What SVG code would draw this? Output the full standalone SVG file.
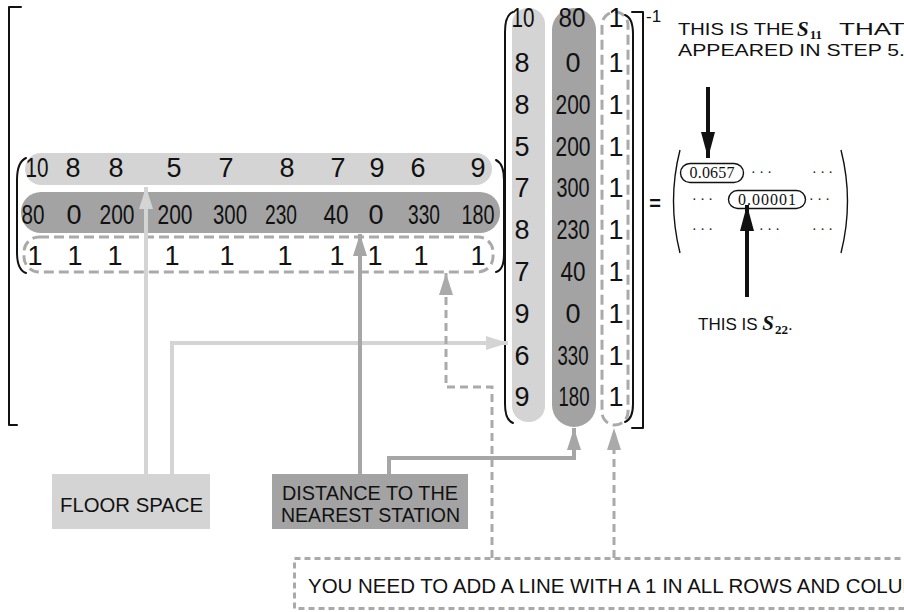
<svg xmlns="http://www.w3.org/2000/svg" width="904" height="612" viewBox="0 0 904 612">
<style>
.hw{font-family:"Liberation Sans",Arial,sans-serif;font-size:27px;text-anchor:middle;fill:#111}
.lbl{font-family:"Liberation Sans",Arial,sans-serif;font-size:20px;fill:#111}
.note{font-family:"Liberation Sans",Arial,sans-serif;font-size:17px;fill:#111}
.math{font-family:"Liberation Serif","Times New Roman",serif;fill:#111}
.dots{font-family:"Liberation Serif","Times New Roman",serif;font-size:14px;fill:#111}
.ink{fill:none;stroke:#111;stroke-width:2;stroke-linecap:round;stroke-linejoin:round}
.thin{fill:none;stroke:#111;stroke-width:1.4}
.pl{fill:#d4d4d4}
.pd{fill:#a3a3a3}
.pdash{fill:none;stroke:#aaaaaa;stroke-width:3;stroke-dasharray:10 5}
.cl{fill:none;stroke:#d4d4d4;stroke-width:4}
.cd{fill:none;stroke:#a6a6a6;stroke-width:4}
.cdash{fill:none;stroke:#aaaaaa;stroke-width:3;stroke-dasharray:8 5}
.cb{fill:none;stroke:#111;stroke-width:4}
</style>
<defs>
<marker id="hl" markerUnits="userSpaceOnUse" markerWidth="24" markerHeight="16" refX="22" refY="7" orient="auto"><path d="M0,0 L22,7 L0,14 Z" fill="#d4d4d4"/></marker>
<marker id="hd" markerUnits="userSpaceOnUse" markerWidth="24" markerHeight="16" refX="22" refY="7" orient="auto"><path d="M0,0 L22,7 L0,14 Z" fill="#a6a6a6"/></marker>
<marker id="hg" markerUnits="userSpaceOnUse" markerWidth="24" markerHeight="16" refX="22" refY="7" orient="auto"><path d="M0,0 L22,7 L0,14 Z" fill="#aaaaaa"/></marker>
<marker id="hb" markerUnits="userSpaceOnUse" markerWidth="28" markerHeight="16" refX="26" refY="7" orient="auto"><path d="M0,0 L26,7 L0,14 Z" fill="#111"/></marker>
</defs>
<rect width="904" height="612" fill="#fff"/>

<!-- outer brackets -->
<g id="outer-bracket">
<path class="ink" d="M21,7 L9,7 L9,425 L17,425"/>
<path class="ink" d="M632,12 L643,12 L643,428 L632,428"/>
<text x="646" y="22" font-family="Liberation Sans,Arial,sans-serif" font-size="17" fill="#111">-1</text>
</g>

<!-- left matrix (transposed) -->
<g id="matrix-xt">
<rect class="pl" x="25" y="153" width="467" height="32" rx="16"/>
<rect class="pd" x="21" y="192" width="479" height="41" rx="20"/>
<rect class="pdash" x="24" y="237" width="469" height="35" rx="15"/>
<path class="ink" d="M26,158 Q17,162 17,180 L17,252 Q17,270 26,273"/>
<path class="ink" d="M496,160 Q504,164 504,180 L504,254 Q504,270 496,272"/>
<g class="hw">
<text x="37" y="177" textLength="23" lengthAdjust="spacingAndGlyphs">10</text><text x="73" y="177">8</text><text x="116" y="177">8</text><text x="174" y="177">5</text><text x="226" y="177">7</text><text x="287" y="177">8</text><text x="338" y="177">7</text><text x="377" y="177">9</text><text x="418" y="177">6</text><text x="478" y="177">9</text>
<text x="33" y="224" textLength="23" lengthAdjust="spacingAndGlyphs">80</text><text x="74" y="224">0</text><text x="117" y="224" textLength="35" lengthAdjust="spacingAndGlyphs">200</text><text x="175" y="224" textLength="35" lengthAdjust="spacingAndGlyphs">200</text><text x="230" y="224" textLength="34" lengthAdjust="spacingAndGlyphs">300</text><text x="281" y="224" textLength="32" lengthAdjust="spacingAndGlyphs">230</text><text x="336" y="224" textLength="25" lengthAdjust="spacingAndGlyphs">40</text><text x="376" y="224">0</text><text x="424" y="224" textLength="32" lengthAdjust="spacingAndGlyphs">330</text><text x="478" y="224" textLength="33" lengthAdjust="spacingAndGlyphs">180</text>
<text x="35" y="265">1</text><text x="75" y="265">1</text><text x="115" y="265">1</text><text x="172" y="265">1</text><text x="227" y="265">1</text><text x="285" y="265">1</text><text x="337" y="265">1</text><text x="375" y="265">1</text><text x="421" y="265">1</text><text x="478" y="265">1</text>
</g>
</g>

<!-- right matrix -->
<g id="matrix-x">
<rect class="pl" x="512" y="8" width="33" height="414" rx="16"/>
<rect class="pd" x="552" y="8" width="44" height="419" rx="22"/>
<rect class="pdash" x="602" y="12" width="26" height="413" rx="13"/>
<path class="ink" d="M513,12 Q505,15 505,32 L505,404 Q505,420 513,423"/>
<path class="ink" d="M625,15 Q633,18 633,34 L633,404 Q633,419 625,422"/>
<g class="hw">
<text x="523" y="27" textLength="23" lengthAdjust="spacingAndGlyphs">10</text><text x="522" y="72">8</text><text x="522" y="114">8</text><text x="522" y="156">5</text><text x="522" y="197">7</text><text x="522" y="239">8</text><text x="522" y="281">7</text><text x="522" y="323">9</text><text x="522" y="365">6</text><text x="522" y="406">9</text>
<text x="572" y="27" textLength="27" lengthAdjust="spacingAndGlyphs">80</text><text x="573" y="72">0</text><text x="573" y="114" textLength="35" lengthAdjust="spacingAndGlyphs">200</text><text x="573" y="156" textLength="35" lengthAdjust="spacingAndGlyphs">200</text><text x="573" y="197" textLength="33" lengthAdjust="spacingAndGlyphs">300</text><text x="573" y="239" textLength="33" lengthAdjust="spacingAndGlyphs">230</text><text x="573" y="281" textLength="25" lengthAdjust="spacingAndGlyphs">40</text><text x="573" y="323">0</text><text x="573" y="365" textLength="31" lengthAdjust="spacingAndGlyphs">330</text><text x="574" y="406" textLength="31" lengthAdjust="spacingAndGlyphs">180</text>
<text x="616" y="27">1</text><text x="616" y="72">1</text><text x="616" y="114">1</text><text x="616" y="156">1</text><text x="616" y="197">1</text><text x="616" y="239">1</text><text x="616" y="281">1</text><text x="616" y="323">1</text><text x="616" y="365">1</text><text x="616" y="406">1</text>
</g>
</g>

<!-- result matrix -->
<g id="result">
<text x="655" y="210" font-family="Liberation Sans,Arial,sans-serif" font-size="20" font-weight="bold" text-anchor="middle" fill="#111">=</text>
<path class="thin" d="M680,150 Q667,201 680,253"/>
<path class="thin" d="M841,150 Q854,201 841,253"/>
<rect x="680.5" y="163.5" width="63" height="19" rx="9.5" fill="none" stroke="#111" stroke-width="1.4"/>
<text class="math" x="712" y="178" font-size="16" text-anchor="middle" textLength="45">0.0657</text>
<rect x="728.5" y="190.5" width="77" height="18" rx="9" fill="none" stroke="#111" stroke-width="1.4"/>
<text class="math" x="767" y="204.5" font-size="16" text-anchor="middle" textLength="58">0.00001</text>
<text class="dots" x="751" y="177">· · ·</text>
<text class="dots" x="812" y="177">· · ·</text>
<text class="dots" x="692" y="204">· · ·</text>
<text class="dots" x="809" y="204">· · ·</text>
<text class="dots" x="692" y="234">· · ·</text>
<text class="dots" x="759" y="234">· · ·</text>
<text class="dots" x="812" y="234">· · ·</text>
</g>

<!-- annotations -->
<g id="note-s11">
<text class="note" x="678" y="35" textLength="116" lengthAdjust="spacingAndGlyphs">THIS IS THE</text>
<text class="math" x="797" y="36" font-weight="bold"><tspan font-size="21" font-style="italic">S</tspan><tspan font-size="13" dx="1" dy="3">11</tspan></text>
<text class="note" x="839" y="35" textLength="66" lengthAdjust="spacingAndGlyphs">THAT</text>
<text class="note" x="678" y="56" textLength="227" lengthAdjust="spacingAndGlyphs">APPEARED IN STEP 5.</text>
</g>
<g id="note-s22">
<text class="note" x="698" y="330" font-size="15">THIS IS <tspan class="math" font-size="21" font-style="italic" font-weight="bold">S</tspan><tspan class="math" font-size="13" font-weight="bold" dx="1" dy="4">22</tspan><tspan dy="-4">.</tspan></text>
</g>

<!-- label boxes -->
<g id="floor-space">
<rect x="52" y="474" width="158" height="55" fill="#d4d4d4"/>
<text class="lbl" x="60" y="512" textLength="143" lengthAdjust="spacingAndGlyphs">FLOOR SPACE</text>
</g>
<g id="distance">
<rect x="272" y="474" width="196" height="55" fill="#a3a3a3"/>
<text class="lbl" x="282" y="500" textLength="176" lengthAdjust="spacingAndGlyphs">DISTANCE TO THE</text>
<text class="lbl" x="281" y="522" textLength="179" lengthAdjust="spacingAndGlyphs">NEAREST STATION</text>
</g>
<g id="ones-note">
<rect x="294.5" y="558.5" width="640" height="50" fill="none" stroke="#aaaaaa" stroke-width="3" stroke-dasharray="6 4"/>
<text class="lbl" x="308" y="593" font-size="19" textLength="640" lengthAdjust="spacingAndGlyphs">YOU NEED TO ADD A LINE WITH A 1 IN ALL ROWS AND COLUMNS</text>
</g>

<!-- connectors -->
<g id="connectors">
<path class="cl" d="M146,474 L146,187" marker-end="url(#hl)"/>
<path class="cl" d="M172,474 L172,343 L508,343" marker-end="url(#hl)"/>
<path class="cd" d="M360,474 L360,234" marker-end="url(#hd)"/>
<path class="cd" d="M389,474 L389,458 L574,458 L574,428" marker-end="url(#hd)"/>
<path class="cdash" d="M492,558 L492,387 L446,387 L446,273" marker-end="url(#hg)"/>
<path class="cdash" d="M614,558 L614,428" marker-end="url(#hg)"/>
<path class="cb" d="M708,87 L708,158" marker-end="url(#hb)"/>
<path class="cb" d="M747,297 L747,205" marker-end="url(#hb)"/>
</g>
</svg>
